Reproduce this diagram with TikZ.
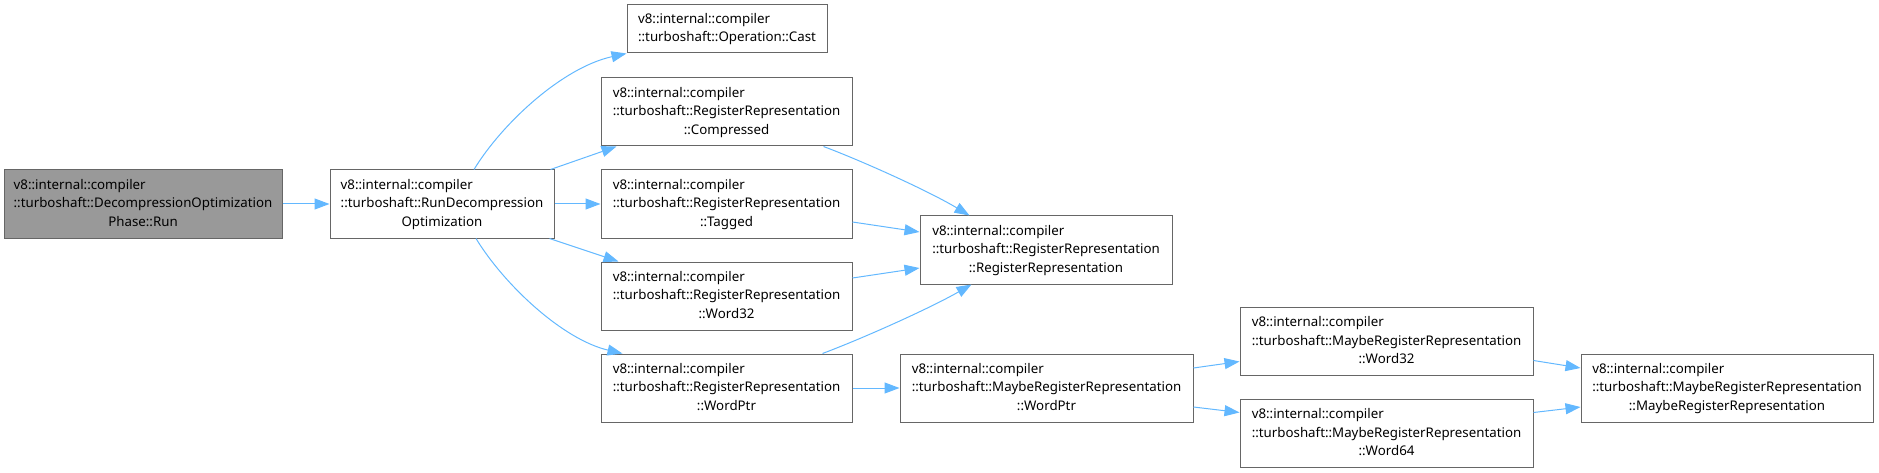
\documentclass[tikz,border=0pt]{standalone}
\usepackage{fontspec}
\setmainfont{Noto Sans}
\usetikzlibrary{arrows.meta}
\definecolor{edgeblue}{HTML}{63B8FF}
\definecolor{boxgray}{HTML}{666666}
\definecolor{rootgray}{HTML}{999999}
\newcommand{\threelines}[3]{\begin{tabular}{@{}l@{}}#1\\#2\\\multicolumn{1}{@{}c@{}}{#3}\end{tabular}}
\newcommand{\twolines}[2]{\begin{tabular}{@{}l@{}}#1\\#2\end{tabular}}
\begin{document}
\begin{tikzpicture}[x=1pt, y=-1pt,
    cls/.style={draw=boxgray, line width=1pt, fill=white, inner sep=0pt,
      minimum height=68pt, font=\fontsize{13.3pt}{18.5pt}\selectfont},
    edge/.style={draw=edgeblue, line width=1pt, -{Triangle[length=15pt,width=11pt]}}]
    \useasboundingbox (0,0) rectangle (1879,473);

    \node[cls, fill=rootgray, minimum width=278pt] (nrun) at (143, 204)
      {\threelines{v8::internal::compiler}{::turboshaft::DecompressionOptimization}{Phase::Run}};
    \node[cls, minimum width=224pt] (nrdo) at (442, 204)
      {\threelines{v8::internal::compiler}{::turboshaft::RunDecompression}{Optimization}};

    \node[cls, minimum width=200pt, minimum height=48pt] (ncast) at (727, 29)
      {\twolines{v8::internal::compiler}{::turboshaft::Operation::Cast}};
    \node[cls, minimum width=251pt] (ncomp) at (726.5, 112)
      {\threelines{v8::internal::compiler}{::turboshaft::RegisterRepresentation}{::Compressed}};
    \node[cls, minimum width=251pt] (ntag) at (726.5, 204)
      {\threelines{v8::internal::compiler}{::turboshaft::RegisterRepresentation}{::Tagged}};
    \node[cls, minimum width=251pt] (nw32) at (726.5, 296)
      {\threelines{v8::internal::compiler}{::turboshaft::RegisterRepresentation}{::Word32}};
    \node[cls, minimum width=251pt] (nwptr) at (726.5, 388)
      {\threelines{v8::internal::compiler}{::turboshaft::RegisterRepresentation}{::WordPtr}};

    \node[cls, minimum width=252pt] (nrr) at (1046, 250)
      {\threelines{v8::internal::compiler}{::turboshaft::RegisterRepresentation}{::RegisterRepresentation}};
    \node[cls, minimum width=293pt] (nmwptr) at (1046.5, 388)
      {\threelines{v8::internal::compiler}{::turboshaft::MaybeRegisterRepresentation}{::WordPtr}};

    \node[cls, minimum width=293pt] (nmw32) at (1386.5, 341.5)
      {\threelines{v8::internal::compiler}{::turboshaft::MaybeRegisterRepresentation}{::Word32}};
    \node[cls, minimum width=293pt] (nmw64) at (1386.5, 433.5)
      {\threelines{v8::internal::compiler}{::turboshaft::MaybeRegisterRepresentation}{::Word64}};

    \node[cls, minimum width=292pt] (nmrr) at (1727, 388)
      {\threelines{v8::internal::compiler}{::turboshaft::MaybeRegisterRepresentation}{::MaybeRegisterRepresentation}};

    \draw[edge] (nrun.east) -- (nrdo.west);

    \draw[edge] ([xshift=32pt]nrdo.north) .. controls +(28,-46) and +(-64,14) .. (ncast.south west);
    \draw[edge] ([xshift=-4pt]nrdo.north east) -- ([xshift=16pt]ncomp.south west);
    \draw[edge] (nrdo.east) -- (ntag.west);
    \draw[edge] ([xshift=-5pt]nrdo.south east) -- ([xshift=18pt]nw32.north west);
    \draw[edge] ([xshift=34pt]nrdo.south) .. controls +(28,46) and +(-60,-14) .. ([xshift=22pt]nwptr.north west);

    \draw[edge] ([xshift=-29pt]ncomp.south east) .. controls +(40,15) and +(-40,-24) .. ([xshift=50pt]nrr.north west);
    \draw[edge] ([yshift=-18pt]ntag.east) -- ([yshift=18pt]nrr.west);
    \draw[edge] ([yshift=18pt]nw32.east) -- ([yshift=-18pt]nrr.west);
    \draw[edge] ([xshift=-30pt]nwptr.north east) .. controls +(40,-15) and +(-42,24) .. ([xshift=52pt]nrr.south west);

    \draw[edge] (nwptr.east) -- (nmwptr.west);
    \draw[edge] ([yshift=20pt]nmwptr.east) -- ([yshift=-20pt]nmw32.west);
    \draw[edge] ([yshift=-19pt]nmwptr.east) -- ([yshift=21pt]nmw64.west);

    \draw[edge] ([yshift=-19pt]nmw32.east) -- ([yshift=20pt]nmrr.west);
    \draw[edge] ([yshift=21pt]nmw64.east) -- ([yshift=-19pt]nmrr.west);
  \end{tikzpicture}
\end{document}
